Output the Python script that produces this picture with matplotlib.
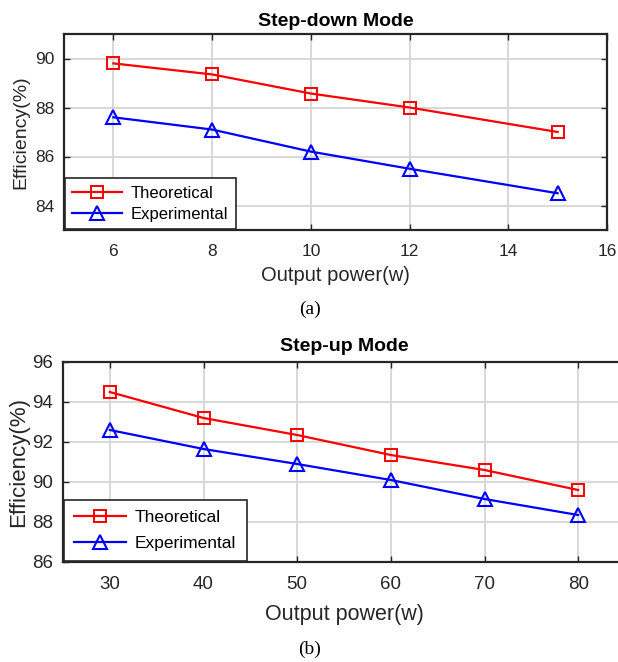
import matplotlib
matplotlib.use("Agg")
import matplotlib.pyplot as plt

plt.rcParams['font.family'] = ['Liberation Sans', 'DejaVu Sans']

# Step-down mode
down_power = [6, 8, 10, 12, 15]
down_theoretical = [89.8, 89.35, 88.57, 88.0, 87.0]
down_experimental = [87.6, 87.1, 86.2, 85.5, 84.5]

# Step-up mode
up_power = [30, 40, 50, 60, 70, 80]
up_theoretical = [94.5, 93.2, 92.35, 91.35, 90.6, 89.6]
up_experimental = [92.6, 91.65, 90.9, 90.1, 89.15, 88.35]

W, H = 618, 662
fig = plt.figure(figsize=(W / 100, H / 100), dpi=100)
DARK = '#262626'


def make_axes(l, t, r, b):
    return fig.add_axes([l / W, 1 - b / H, (r - l) / W, (b - t) / H])


def style(ax, tick_size, xpad):
    for s in ax.spines.values():
        s.set_linewidth(1.6)
        s.set_color(DARK)
    ax.tick_params(direction='in', top=True, right=True, length=4, width=1,
                   labelsize=tick_size, colors=DARK)
    ax.tick_params(axis='x', pad=xpad)
    ax.tick_params(axis='y', pad=7)
    ax.grid(True, color='#d6d6d6', linewidth=1.3)
    ax.set_axisbelow(True)


def plot_series(ax, x, th, ex, leg_size, spacing, bpad):
    ax.plot(x, th, '-s', color='red', lw=1.6, ms=8, mfc='none', mew=1.4,
            label='Theoretical')
    ax.plot(x, ex, '-^', color='blue', lw=1.6, ms=10, mfc='none', mew=1.5,
            label='Experimental')
    leg = ax.legend(loc='lower left', fontsize=leg_size, fancybox=False,
                    edgecolor=DARK, framealpha=1, borderaxespad=0.05,
                    handlelength=3.0, borderpad=bpad, labelspacing=spacing,
                    handletextpad=0.5)
    leg.get_frame().set_linewidth(1.2)


# (a)
ax1 = make_axes(64, 34, 607, 230)
style(ax1, 12.5, 10)
plot_series(ax1, down_power, down_theoretical, down_experimental, 12, 0.35, 0.45)
ax1.set_xlim(5, 16)
ax1.set_ylim(83, 91)
ax1.set_xticks([6, 8, 10, 12, 14, 16])
ax1.set_yticks([84, 86, 88, 90])
ax1.set_title('Step-down Mode', fontsize=14, fontweight='bold', pad=6)
ax1.set_xlabel('Output power(w)', fontsize=14.5, color=DARK, labelpad=5)
ax1.set_ylabel('Efficiency(%)', fontsize=14, color=DARK, labelpad=4)
fig.text(310 / W, 1 - 309 / H, '(a)', family=['Liberation Serif', 'DejaVu Serif'],
         fontsize=14, ha='center', va='center')

# (b)
ax2 = make_axes(63, 362, 625, 562)
style(ax2, 13.5, 10)
plot_series(ax2, up_power, up_theoretical, up_experimental, 12.5, 0.6, 0.6)
ax2.set_xlim(25, 85)
ax2.set_ylim(86, 96)
ax2.set_xticks([30, 40, 50, 60, 70, 80])
ax2.set_yticks([86, 88, 90, 92, 94, 96])
ax2.set_title('Step-up Mode', fontsize=14, fontweight='bold', pad=8)
ax2.set_xlabel('Output power(w)', fontsize=15.5, color=DARK, labelpad=8)
ax2.set_ylabel('Efficiency(%)', fontsize=16, color=DARK, labelpad=2)
fig.text(310 / W, 1 - 649 / H, '(b)', family=['Liberation Serif', 'DejaVu Serif'],
         fontsize=14, ha='center', va='center')

fig.savefig('out.png', dpi=100)
